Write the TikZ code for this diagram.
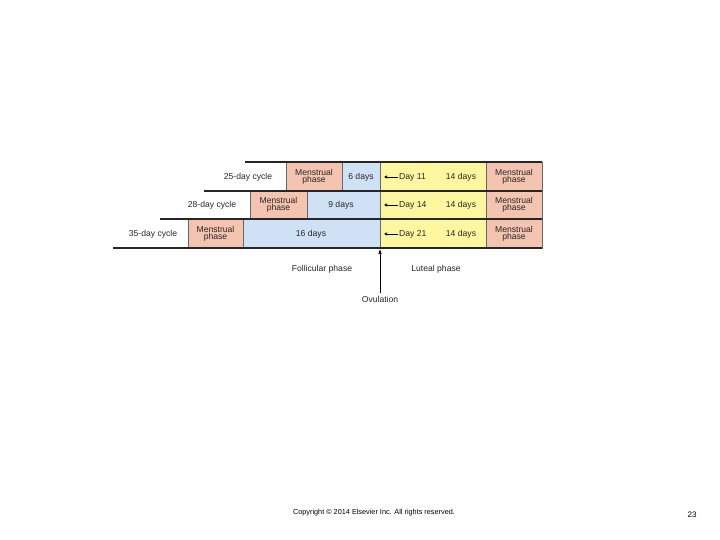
\documentclass[tikz,border=0pt]{standalone}
\usepackage{fontspec}
\setmainfont{Liberation Sans}
\usetikzlibrary{arrows.meta}
\begin{document}
\begin{tikzpicture}[x=1pt,y=-1pt,
  cell/.style={draw=black!60,line width=0.4pt},
  men/.style={cell,fill=menc},
  fol/.style={cell,fill=folc},
  lut/.style={cell,fill=lutc},
  lbl/.style={font=\fontsize{8.6}{9}\selectfont,align=center,inner sep=0pt,text=black!85},
  rule/.style={line width=1.3pt,black!85}]
\definecolor{menc}{HTML}{F5C4B0}
\definecolor{folc}{HTML}{CFE1F4}
\definecolor{lutc}{HTML}{FFF7A0}
\useasboundingbox (0,0) rectangle (720,540);
% row 1
\filldraw[men] (286,162) rectangle (342,191);
\filldraw[fol] (342,162) rectangle (380,191);
\filldraw[lut] (380,162) rectangle (486,191);
\filldraw[men] (486,162) rectangle (542,191);
% row 2
\filldraw[men] (250,191) rectangle (307,219);
\filldraw[fol] (307,191) rectangle (380,219);
\filldraw[lut] (380,191) rectangle (486,219);
\filldraw[men] (486,191) rectangle (542,219);
% row 3
\filldraw[men] (188,219) rectangle (243,248);
\filldraw[fol] (243,219) rectangle (380,248);
\filldraw[lut] (380,219) rectangle (486,248);
\filldraw[men] (486,219) rectangle (542,248);
% rules
\draw[rule] (245,162) -- (542,162);
\draw[rule] (204,191) -- (542,191);
\draw[rule] (160,219) -- (542,219);
\draw[rule] (113,248) -- (542,248);
% labels
\node[lbl] (c25) at (248,177) {25-day cycle};
\node[lbl] (c28) at (212,205) {28-day cycle};
\node[lbl] (c35) at (153,234) {35-day cycle};
\foreach \x/\y/\n in {314/177/a,278.5/205/b,215.5/234/c,514/177/d,514/205/e,514/234/f}
  \node[lbl] (m\n) at (\x,\y) {Menstrual\\[-1.5pt]phase};
\node[lbl] (f1) at (361,177) {6 days};
\node[lbl] (f2) at (341,205) {9 days};
\node[lbl] (f3) at (311,234) {16 days};
\foreach \y/\d/\n in {177/11/a,205/14/b,234/21/c}{
  \node[lbl,anchor=west] (d\n) at (399,\y) {Day \d};
  \coordinate (s\n) at (384,\y);
  \node[lbl] (l\n) at (461,\y) {14 days};
}
\foreach \n in {a,b,c}
  \draw[-{Latex[length=3pt,width=3.5pt]},line width=0.9pt] (d\n.west) ++(-1.5,0) -- (s\n);
\node[lbl] (fp) at (322,269) {Follicular phase};
\node[lbl] (lp) at (436,269) {Luteal phase};
\node[lbl] (ov) at (380,299) {Ovulation};
\coordinate (ovt) at (380,249);
\draw[-{Latex[length=5pt,width=3.5pt]},line width=0.6pt] (ov.north) ++(0,-3) -- (ovt);
\node[font=\fontsize{7.3}{8}\selectfont] (cp) at (374,513) {Copyright © 2014 Elsevier Inc. All rights reserved.};
\node[font=\fontsize{8}{9}\selectfont] (pg) at (692,515) {23};
\end{tikzpicture}
\end{document}
